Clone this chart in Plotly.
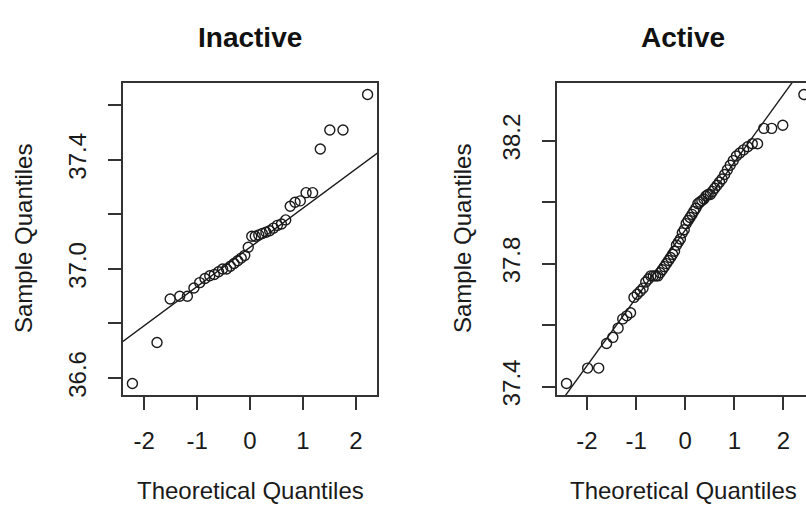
import numpy as np
import plotly.graph_objects as go
from statistics import NormalDist

# ---- data (sorted sample values) ----
inactive_values = [36.58, 36.73, 36.89, 36.90, 36.90, 36.93, 36.95, 36.965, 36.975, 36.98,
                   36.99, 37.00, 37.00, 37.01, 37.02, 37.03, 37.04, 37.05, 37.08, 37.12,
                   37.12, 37.125, 37.13, 37.135, 37.14, 37.15, 37.16, 37.165, 37.18, 37.23,
                   37.245, 37.25, 37.28, 37.28, 37.44, 37.51, 37.51, 37.64]

active_values = [37.41, 37.46, 37.46, 37.54, 37.56, 37.59, 37.62, 37.63, 37.64, 37.69,
                 37.70, 37.71, 37.72, 37.74, 37.75, 37.76, 37.76, 37.76, 37.76, 37.77,
                 37.78, 37.79, 37.80, 37.81, 37.82, 37.83, 37.84, 37.86, 37.87, 37.88,
                 37.90, 37.91, 37.93, 37.94, 37.95, 37.96, 37.97, 37.98, 37.995, 38.00,
                 38.005, 38.01, 38.02, 38.025, 38.025, 38.035, 38.045, 38.055, 38.065, 38.075,
                 38.09, 38.105, 38.12, 38.135, 38.15, 38.16, 38.17, 38.18, 38.19, 38.19,
                 38.24, 38.24, 38.25, 38.35]

panel_titles = ["Inactive", "Active"]
x_title = "Theoretical Quantiles"
y_title = "Sample Quantiles"

x_tickvals = [-2, -1, 0, 1, 2]
x_ticktext = ["-2", "-1", "0", "1", "2"]
inactive_yticks = [36.6, 36.8, 37.0, 37.2, 37.4, 37.6]
inactive_ylabels = ["36.6", "", "37.0", "", "37.4", ""]
active_yticks = [37.4, 37.6, 37.8, 38.0, 38.2]
active_ylabels = ["37.4", "", "37.8", "", "38.2"]

W, H = 806, 510
FONT = "Liberation Sans, Arial, Helvetica, sans-serif"
INK = "#1a1a1a"
AXC = "#333333"


def theo_quantiles(n):
    nd = NormalDist()
    return np.array([nd.inv_cdf((i - 0.5) / n) for i in range(1, n + 1)])


def qqline(y):
    nd = NormalDist()
    q1, q3 = np.quantile(y, [0.25, 0.75])
    x1, x3 = nd.inv_cdf(0.25), nd.inv_cdf(0.75)
    slope = (q3 - q1) / (x3 - x1)
    intercept = q1 - slope * x1
    return slope, intercept


def r_range(v):
    lo, hi = min(v), max(v)
    d = (hi - lo) * 0.04
    return [lo - d, hi + d]


fig = go.Figure()

panels = [
    (inactive_values, "x", "y"),
    (active_values, "x2", "y2"),
]
xranges = []
for vals, xa, ya in panels:
    y = np.array(vals)
    x = theo_quantiles(len(y))
    xr = r_range(x)
    xranges.append(xr)
    s, b = qqline(y)
    fig.add_trace(go.Scatter(x=x, y=y, mode="markers", xaxis=xa, yaxis=ya,
                             marker=dict(symbol="circle-open", size=10, color=INK,
                                         line=dict(width=1.4, color=INK)),
                             showlegend=False, hoverinfo="skip"))
    lx = np.array(xr) * 1.2
    fig.add_trace(go.Scatter(x=lx, y=b + s * lx, mode="lines", xaxis=xa, yaxis=ya,
                             line=dict(color=INK, width=1.4),
                             showlegend=False, hoverinfo="skip"))

# right panel is cut off by the image's right edge
right_full = xranges[1]
cut_frac = (806 - 557) / (813.4 - 557)
right_visible = [right_full[0], right_full[0] + (right_full[1] - right_full[0]) * cut_frac]

ydom = [(H - 395) / H, (H - 83) / H]

common_x = dict(showgrid=False, zeroline=False, showline=True, linecolor=AXC, linewidth=1.7,
                ticks="outside", ticklen=13, tickwidth=1.7, tickcolor=AXC,
                tickvals=x_tickvals, ticktext=x_ticktext,
                tickfont=dict(family=FONT, size=24, color=INK), ticklabelstandoff=10)
common_y = dict(showgrid=False, zeroline=False, showline=True, linecolor=AXC, linewidth=1.7,
                ticks="outside", ticklen=13, tickwidth=1.7, tickcolor=AXC,
                tickangle=-90, tickfont=dict(family=FONT, size=24, color=INK),
                ticklabelstandoff=13)

fig.update_layout(
    width=W, height=H,
    margin=dict(l=0, r=0, t=0, b=0, autoexpand=False),
    paper_bgcolor="white", plot_bgcolor="white",
    xaxis=dict(domain=[123 / W, 377 / W], range=xranges[0], anchor="y", mirror=True, **common_x),
    yaxis=dict(domain=ydom, range=r_range(inactive_values), anchor="x", mirror=True,
               tickvals=inactive_yticks, ticktext=inactive_ylabels, **common_y),
    xaxis2=dict(domain=[557 / W, 1.0], range=right_visible, anchor="y2", mirror=True, **common_x),
    yaxis2=dict(domain=ydom, range=r_range(active_values), anchor="x2", mirror=False,
                tickvals=active_yticks, ticktext=active_ylabels, **common_y),
)

annotations = []
for title, cx in zip(panel_titles, [250, 683]):
    annotations.append(dict(text="<b>%s</b>" % title, x=cx / W, y=1 - 38 / H, xref="paper", yref="paper",
                            showarrow=False, xanchor="center", yanchor="middle",
                            font=dict(family=FONT, size=28, color="#111111")))
    annotations.append(dict(text=x_title, x=cx / W, y=1 - 490 / H, xref="paper", yref="paper",
                            showarrow=False, xanchor="center", yanchor="middle",
                            font=dict(family=FONT, size=24, color=INK)))
for cx in [23, 462]:
    annotations.append(dict(text=y_title, x=cx / W, y=1 - 239 / H, xref="paper", yref="paper",
                            showarrow=False, xanchor="center", yanchor="middle", textangle=-90,
                            font=dict(family=FONT, size=24, color=INK)))
fig.update_layout(annotations=annotations)

post = ("document.documentElement.style.overflow='hidden';"
        "document.documentElement.style.height='510px';"
        "document.body.style.margin='0px';"
        "document.body.style.padding='0px';"
        "document.body.style.height='510px';"
        "document.body.style.overflow='hidden';")

fig.write_html("out.html", config={"displayModeBar": False}, post_script=post)
